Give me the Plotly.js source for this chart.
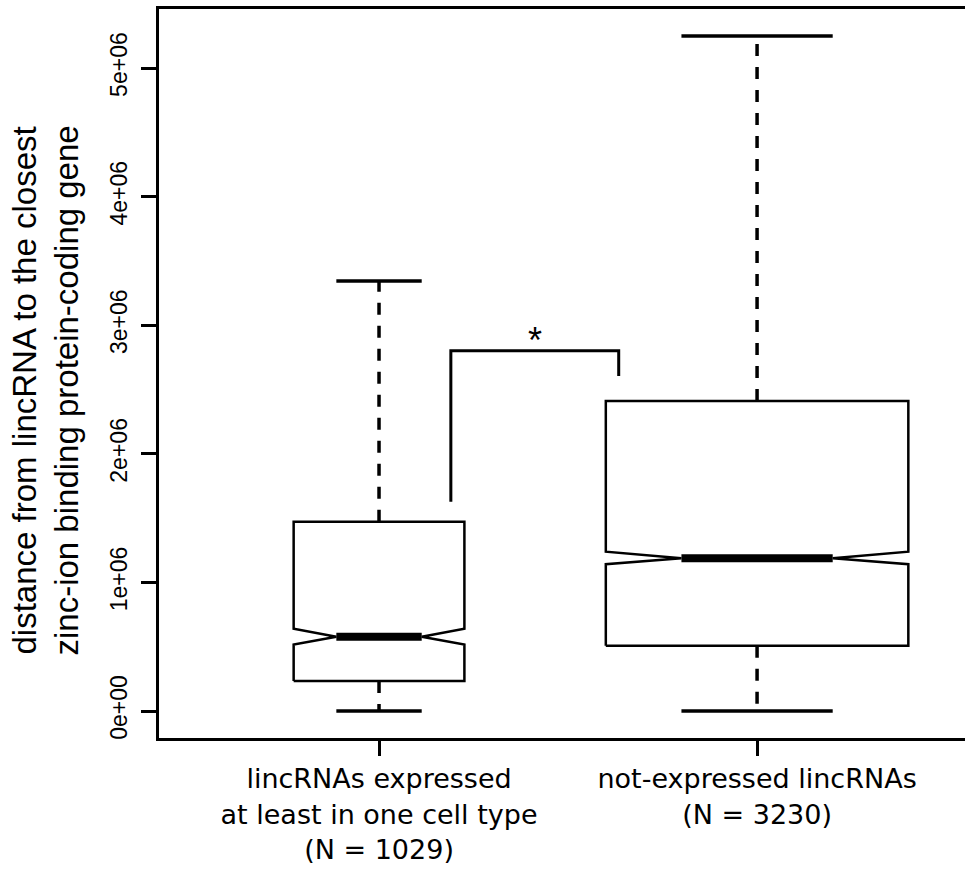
<!DOCTYPE html>
<html>
<head>
<meta charset="utf-8">
<script src="https://cdn.plot.ly/plotly-3.0.1.min.js"></script>
<style>html,body{margin:0;padding:0;background:#fff;}</style>
</head>
<body>
<div id="chart" style="width:965px;height:871px;"></div>
<script>
// ---- data ----
const categories = ['lincRNAs expressed<br>at least in one cell type<br>(N = 1029)', 'not-expressed lincRNAs<br>(N = 3230)'];
const positions = [1, 2];
const counts = [1029, 3230];
const lowerWhisker = [0, 0];
const q1 = [0.233e6, 0.508e6];
const median = [0.578e6, 1.187e6];
const q3 = [1.472e6, 2.411e6];
const upperWhisker = [3.344e6, 5.249e6];
const notchLow = [0.517e6, 1.141e6];
const notchHigh = [0.640e6, 1.239e6];
const yTickVals = [0, 1e6, 2e6, 3e6, 4e6, 5e6];
const yTickText = ['0e+00', '1e+06', '2e+06', '3e+06', '4e+06', '5e+06'];
const yTitle = 'distance from lincRNA to the closest<br>zinc-ion binding protein-coding gene';
const sigX = [1.190, 1.634];              // bracket ends
const sigY = [1.628e6, 2.802e6, 2.605e6]; // left end, top, right end
const sigLabel = '*';

// ---- drawing ----
const widthScale = 0.01408; // varwidth: box width proportional to sqrt(N)
const traces = [];
const dashStyle = '12px,11px';
for (let i = 0; i < positions.length; i++) {
  const x = positions[i];
  const w = widthScale * Math.sqrt(counts[i]) / 2;
  // notched box outline
  traces.push({
    type: 'scatter', mode: 'lines', hoverinfo: 'skip', showlegend: false,
    x: [x - w, x + w, x + w, x + w * 0.5, x + w, x + w, x - w, x - w, x - w * 0.5, x - w, x - w],
    y: [q1[i], q1[i], notchLow[i], median[i], notchHigh[i], q3[i], q3[i], notchHigh[i], median[i], notchLow[i], q1[i]],
    line: {color: '#000', width: 2.5}
  });
  // median
  traces.push({
    type: 'scatter', mode: 'lines', hoverinfo: 'skip', showlegend: false,
    x: [x - w * 0.5, x + w * 0.5], y: [median[i], median[i]],
    line: {color: '#000', width: 8}
  });
  // whiskers
  traces.push({
    type: 'scatter', mode: 'lines', hoverinfo: 'skip', showlegend: false,
    x: [x, x], y: [q3[i], upperWhisker[i]],
    line: {color: '#000', width: 3.5, dash: dashStyle}
  });
  traces.push({
    type: 'scatter', mode: 'lines', hoverinfo: 'skip', showlegend: false,
    x: [x, x], y: [q1[i], lowerWhisker[i]],
    line: {color: '#000', width: 3.5, dash: dashStyle}
  });
  // staples
  traces.push({
    type: 'scatter', mode: 'lines', hoverinfo: 'skip', showlegend: false,
    x: [x - w * 0.5, x + w * 0.5], y: [upperWhisker[i], upperWhisker[i]],
    line: {color: '#000', width: 3.5}
  });
  traces.push({
    type: 'scatter', mode: 'lines', hoverinfo: 'skip', showlegend: false,
    x: [x - w * 0.5, x + w * 0.5], y: [lowerWhisker[i], lowerWhisker[i]],
    line: {color: '#000', width: 3.5}
  });
}
// significance bracket
traces.push({
  type: 'scatter', mode: 'lines', hoverinfo: 'skip', showlegend: false,
  x: [sigX[0], sigX[0], sigX[1], sigX[1]],
  y: [sigY[0], sigY[1], sigY[1], sigY[2]],
  line: {color: '#000', width: 3}
});

const layout = {
  width: 965, height: 871,
  margin: {l: 159, r: 0, t: 9, b: 133},
  paper_bgcolor: '#fff', plot_bgcolor: '#fff',
  showlegend: false,
  xaxis: {
    range: [0.418, 2.550],
    tickvals: positions, ticktext: categories,
    ticks: 'outside', ticklen: 15, tickwidth: 3, tickcolor: '#000',
    showline: true, linewidth: 3, linecolor: '#000', mirror: true,
    showgrid: false, zeroline: false,
    tickfont: {family: 'DejaVu Sans', size: 27, color: '#000'},
    tickangle: 0
  },
  yaxis: {
    range: [-0.21e6, 5.459e6],
    tickvals: yTickVals, ticktext: yTickText,
    ticks: 'outside', ticklen: 15, tickwidth: 3, tickcolor: '#000',
    showline: true, linewidth: 3, linecolor: '#000',
    showgrid: false, zeroline: false,
    tickangle: -90,
    ticklabelstandoff: 5,
    tickfont: {family: 'Liberation Sans', size: 23, color: '#000'}
  },
  annotations: [{
    x: (sigX[0] + sigX[1]) / 2, y: sigY[1], xref: 'x', yref: 'y',
    text: sigLabel, showarrow: false, yanchor: 'middle', yshift: 10,
    font: {family: 'Liberation Sans', size: 36, color: '#000'}
  }, {
    x: -0.1408, y: 0.476, xref: 'paper', yref: 'paper',
    xanchor: 'center', yanchor: 'middle', textangle: -90,
    text: yTitle, showarrow: false,
    font: {family: 'Liberation Sans', size: 33, color: '#000'}
  }]
};

Plotly.newPlot('chart', traces, layout, {staticPlot: true, displayModeBar: false});
</script>
</body>
</html>
